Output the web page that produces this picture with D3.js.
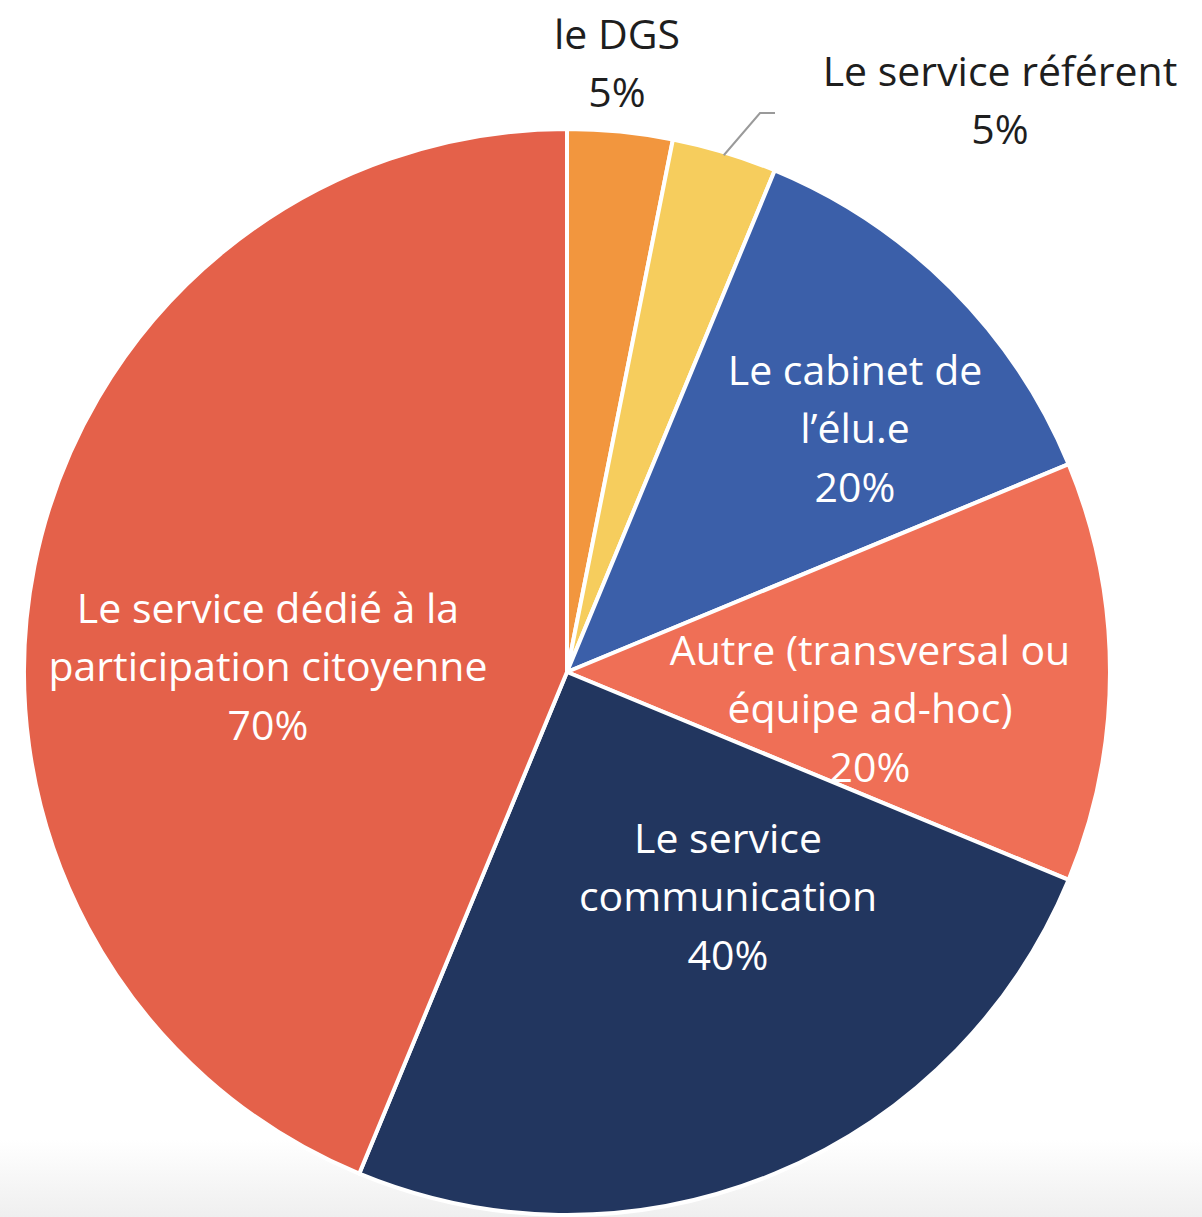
<!DOCTYPE html>
<html>
<head>
<meta charset="utf-8">
<script src="https://cdn.jsdelivr.net/npm/d3@7"></script>
<style>
  body { margin: 0; background: #fff; }
  svg { display: block; }
</style>
</head>
<body>
<svg id="chart"></svg>
<script>
// Data (clockwise from 12 o'clock)
const categories = [
  'le DGS',
  'Le service référent',
  'Le cabinet de l\u2019élu.e',
  'Autre (transversal ou équipe ad-hoc)',
  'Le service communication',
  'Le service dédié à la participation citoyenne'
];
const values = [5, 5, 20, 20, 40, 70];
const valueLabels = ['5%', '5%', '20%', '20%', '40%', '70%'];
// how each label wraps in the picture
const labelLines = [
  ['le DGS'],
  ['Le service référent'],
  ['Le cabinet de', 'l\u2019élu.e'],
  ['Autre (transversal ou', 'équipe ad-hoc)'],
  ['Le service', 'communication'],
  ['Le service dédié à la', 'participation citoyenne']
];
const colors = ['#F2963E', '#F6CD5D', '#3B5FA9', '#EF6F56', '#22365F', '#E4614A'];

const width = 1202;
const height = 1217;
const cx = 567, cy = 672, radius = 543;

// label block centres (layout, px) – Excel puts them wherever it likes
const labelPos = [
  [617, 62], [1000, 99], [855, 427], [870, 707], [728, 895], [268, 665]
];
const outside = [true, true, false, false, false, false];
const lineGap = 58.5;

const svg = d3.select('#chart')
  .attr('width', width)
  .attr('height', height);

// faint grey band at the very bottom of the screenshot
const defs = svg.append('defs');
const grad = defs.append('linearGradient')
  .attr('id', 'bottomFade')
  .attr('x1', 0).attr('y1', 0).attr('x2', 0).attr('y2', 1);
grad.append('stop').attr('offset', '0%').attr('stop-color', '#ffffff');
grad.append('stop').attr('offset', '100%').attr('stop-color', '#efefef');
svg.append('rect')
  .attr('x', 0).attr('y', 1140)
  .attr('width', width).attr('height', height - 1140)
  .attr('fill', 'url(#bottomFade)');

const pie = d3.pie().sort(null).value(d => d)
  .startAngle(0).endAngle(2 * Math.PI);
const arc = d3.arc().innerRadius(0).outerRadius(radius);

const g = svg.append('g').attr('transform', `translate(${cx},${cy})`);

g.selectAll('path.slice')
  .data(pie(values))
  .enter()
  .append('path')
  .attr('class', 'slice')
  .attr('d', arc)
  .attr('fill', (d, i) => colors[i])
  .attr('stroke', '#fff')
  .attr('stroke-width', 4)
  .attr('stroke-linejoin', 'round');

// leader line for "Le service référent"
const refArc = pie(values)[1];
const mid = (refArc.startAngle + refArc.endAngle) / 2;
const p0 = [cx + Math.sin(mid) * (radius - 3), cy - Math.cos(mid) * (radius - 3)];
svg.append('polyline')
  .attr('points', `${p0[0]},${p0[1]} 760,113 775,113`)
  .attr('fill', 'none')
  .attr('stroke', '#9a9a9a')
  .attr('stroke-width', 2);

// labels
const labels = svg.append('g')
  .attr('font-family', '"Open Sans", Lato, sans-serif')
  .attr('font-size', 41)
  .attr('text-anchor', 'middle');

categories.forEach((c, i) => {
  const lines = labelLines[i].concat([valueLabels[i]]);
  const n = lines.length;
  const t = labels.append('text')
    .attr('fill', outside[i] ? '#1e1e1e' : '#ffffff')
    .attr('dominant-baseline', 'central');
  lines.forEach((l, k) => {
    t.append('tspan')
      .attr('x', labelPos[i][0])
      .attr('y', labelPos[i][1] + (k - (n - 1) / 2) * lineGap)
      .text(l);
  });
});
</script>
</body>
</html>
